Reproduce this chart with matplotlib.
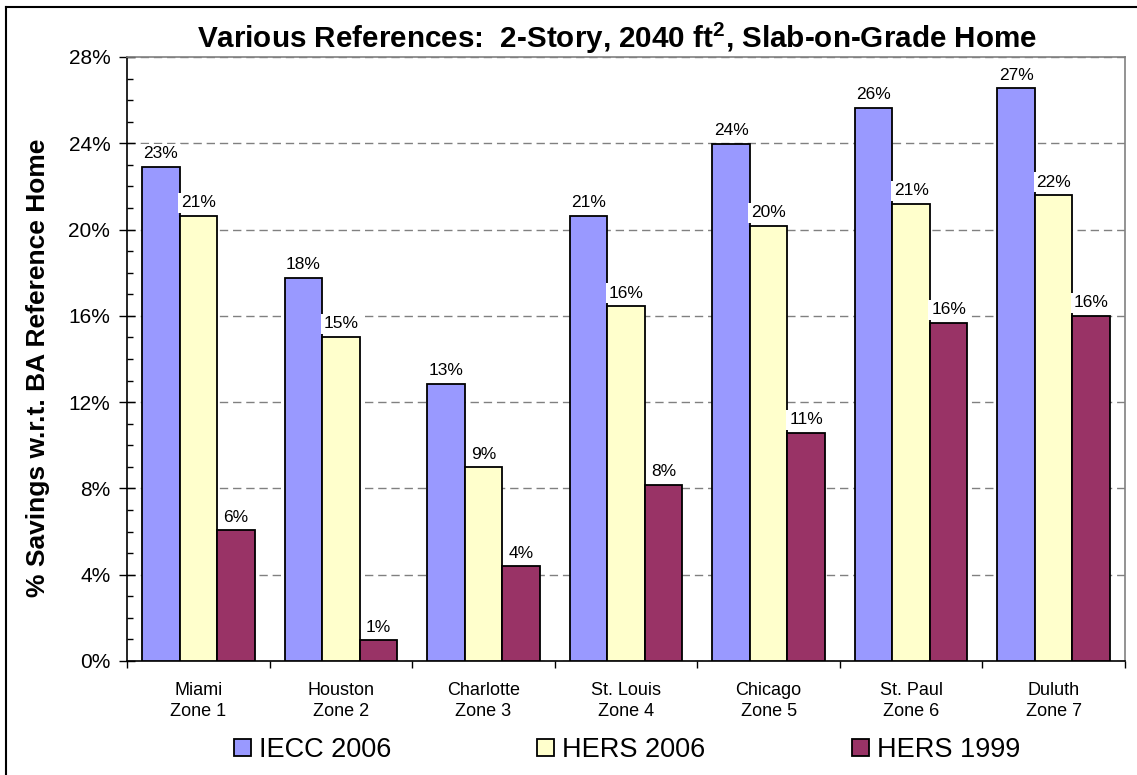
import numpy as np
import matplotlib
matplotlib.use('Agg')
import matplotlib.pyplot as plt
from matplotlib.lines import Line2D
from matplotlib.ticker import MultipleLocator, FixedLocator, NullFormatter

plt.rcParams['font.family'] = ['Liberation Sans', 'DejaVu Sans']
plt.rcParams['mathtext.fontset'] = 'custom'
plt.rcParams['mathtext.rm'] = 'Liberation Sans'
plt.rcParams['mathtext.bf'] = 'Liberation Sans:bold'

cities = ['Miami\nZone 1', 'Houston\nZone 2', 'Charlotte\nZone 3', 'St. Louis\nZone 4',
          'Chicago\nZone 5', 'St. Paul\nZone 6', 'Duluth\nZone 7']
series = ['IECC 2006', 'HERS 2006', 'HERS 1999']
iecc_2006 = [22.9, 17.76, 12.84, 20.63, 23.97, 25.65, 26.55]
hers_2006 = [20.63, 15.02, 8.99, 16.45, 20.17, 21.19, 21.6]
hers_1999 = [6.07, 0.97, 4.40, 8.16, 10.57, 15.67, 16.0]
colors = ['#9999FF', '#FFFFCC', '#993366']

W, H = 1137, 775
fig = plt.figure(figsize=(W / 100, H / 100), dpi=100)
ax = fig.add_axes([127 / W, 1 - 661 / H, (1125 - 127) / W, (661 - 57) / H])

x = np.arange(len(cities))
bw = 0.263
for i, (vals, name, c) in enumerate(zip([iecc_2006, hers_2006, hers_1999], series, colors)):
    bars = ax.bar(x + (i - 1) * bw, vals, bw, color=c, edgecolor='black', linewidth=1.3,
                  label=name, zorder=3)
    ax.bar_label(bars, labels=['%.0f%%' % v for v in vals], padding=4, fontsize=12.5,
                 bbox=dict(facecolor='white', edgecolor='none', pad=2), zorder=4)

ax.set_xlim(-0.5, len(cities) - 0.5)
ax.set_ylim(0, 28)
ax.yaxis.set_minor_locator(MultipleLocator(1))
ax.set_yticks(range(0, 29, 4))
ax.set_yticklabels(['%d%%' % v for v in range(0, 29, 4)], fontsize=15)
ax.tick_params(axis='y', which='major', direction='inout', length=12, width=1, pad=6)
ax.tick_params(axis='y', which='minor', direction='in', length=4, width=1)

ax.set_xticks(x)
ax.set_xticklabels(cities, fontsize=13, linespacing=1.3)
ax.xaxis.set_minor_locator(FixedLocator(np.arange(-0.5, len(cities), 1)))
ax.xaxis.set_minor_formatter(NullFormatter())
ax.tick_params(axis='x', which='major', length=0, pad=15)
ax.tick_params(axis='x', which='minor', direction='out', length=5, width=1)

ax.yaxis.grid(True, linestyle=(0, (6, 3.5)), color='#808080', linewidth=1, zorder=0)
ax.set_axisbelow(True)
for s in ['left', 'bottom']:
    ax.spines[s].set_color('black')
    ax.spines[s].set_linewidth(1.2)
for s in ['top', 'right']:
    ax.spines[s].set_color('#808080')
    ax.spines[s].set_linewidth(1.2)

ax.set_ylabel('% Savings w.r.t. BA Reference Home', fontsize=19, fontweight='bold')
ax.yaxis.set_label_coords(-0.077, 0.485)

fig.text(617 / W, 1 - 38 / H, r'Various References:  2-Story, 2040 ft$^{\mathbf{2}}$, Slab-on-Grade Home',
         ha='center', va='center', fontsize=21.3, fontweight='bold')

fig.legend(loc='center', bbox_to_anchor=(627 / W, 1 - 750 / H), ncol=3, fontsize=19.5,
           frameon=False, handlelength=0.62, handleheight=0.62, handletextpad=0.3,
           columnspacing=5.4, borderaxespad=0)

# outer chart border (left and top visible)
fig.add_artist(Line2D([6 / W, 6 / W], [0, 1 - 7 / H], color='black', linewidth=1.5))
fig.add_artist(Line2D([6 / W, 1], [1 - 7 / H, 1 - 7 / H], color='black', linewidth=1.5))

fig.savefig('out.png', dpi=100)
